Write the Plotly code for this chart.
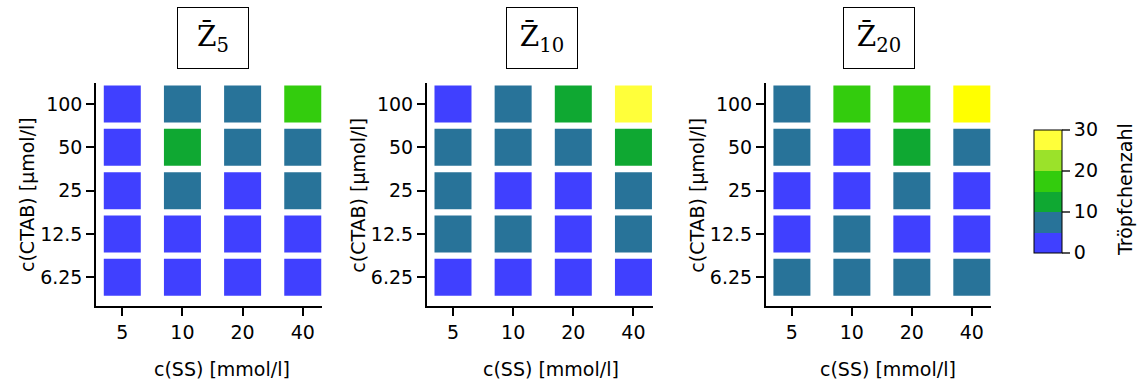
import plotly.graph_objects as go

# Axis categories
ss_labels = ["5", "10", "20", "40"]              # c(SS) [mmol/l]
ctab_labels = ["100", "50", "25", "12.5", "6.25"]  # c(CTAB) [µmol/l], top to bottom

# Droplet counts per panel, rows follow ctab_labels, columns follow ss_labels
z5 = [
    [3, 7, 7, 17],
    [3, 12, 7, 7],
    [3, 7, 3, 7],
    [3, 3, 3, 3],
    [3, 3, 3, 3],
]
z10 = [
    [3, 7, 12, 27],
    [7, 7, 7, 12],
    [7, 3, 3, 7],
    [7, 7, 3, 7],
    [3, 3, 3, 3],
]
z20 = [
    [7, 17, 17, 30],
    [7, 3, 12, 7],
    [3, 3, 7, 3],
    [3, 7, 3, 3],
    [7, 7, 7, 7],
]
panel_titles = ["Z\u0304<sub>5</sub>", "Z\u0304<sub>10</sub>", "Z\u0304<sub>20</sub>"]
panels = [z5, z10, z20]

cbar_ticks = [0, 10, 20, 30]
bin_colors = ["#4040FF", "#287399", "#0FA832", "#33CC0D", "#9BE22A", "#FFFF3A"]
top_color = "#FFFF00"

# stepped colour scale, one flat band per bin of 5
colorscale = []
n = len(bin_colors)
for i, c in enumerate(bin_colors):
    lo = i / n
    hi = (i + 1) / n if i < n - 1 else 0.9999
    colorscale.append([lo, c])
    colorscale.append([hi, c])
colorscale.append([0.9999, top_color])
colorscale.append([1.0, top_color])

W, H = 1138, 383
x_dom_px = [(96, 322), (426.7, 652.7), (765.7, 991)]
y_dom_px = (83, 306)
title_centres = [213, 542, 879.5]
xtitle_centres = [222, 551, 888]

FONT = "DejaVu Sans"
fs = 19
txt = dict(family=FONT, size=fs, color="black")

fig = go.Figure()

for k, mat in enumerate(panels):
    xs, ys, vals = [], [], []
    for i, row in enumerate(mat):
        for j, v in enumerate(row):
            xs.append(j)
            ys.append(i)
            vals.append(v)
    suffix = "" if k == 0 else str(k + 1)
    fig.add_trace(go.Scatter(
        x=xs, y=ys, mode="markers",
        xaxis="x" + suffix, yaxis="y" + suffix,
        marker=dict(symbol="square", size=37, color=vals,
                    coloraxis="coloraxis", line=dict(width=0)),
        hoverinfo="skip", showlegend=False,
    ))

    x0, x1 = x_dom_px[k]
    xa = dict(
        domain=[x0 / W, x1 / W], range=[-0.437, 3.32],
        anchor="y" + suffix,
        tickmode="array", tickvals=list(range(len(ss_labels))), ticktext=ss_labels,
        showline=True, linecolor="black", linewidth=1.5,
        ticks="outside", ticklen=8, tickwidth=1.5, tickcolor="black",
        showgrid=False, zeroline=False, automargin=False,
        tickfont=txt,
    )
    ya = dict(
        domain=[1 - y_dom_px[1] / H, 1 - y_dom_px[0] / H], range=[4.662, -0.485],
        anchor="x" + suffix,
        tickmode="array", tickvals=list(range(len(ctab_labels))), ticktext=ctab_labels,
        showline=True, linecolor="black", linewidth=1.5,
        ticks="outside", ticklen=8, tickwidth=1.5, tickcolor="black",
        showgrid=False, zeroline=False, automargin=False,
        tickfont=txt,
    )
    fig.layout["xaxis" + suffix] = xa
    fig.layout["yaxis" + suffix] = ya

    # x-axis title
    fig.add_annotation(
        text="c(SS) [mmol/l]", xref="paper", yref="paper",
        x=xtitle_centres[k] / W, y=1 - 369 / H, xanchor="center", yanchor="middle",
        showarrow=False, font=txt,
    )

    # y-axis title
    fig.add_annotation(
        text="c(CTAB) [µmol/l]", xref="paper", yref="paper",
        x=(x0 - 69) / W, y=1 - 195 / H, xanchor="center", yanchor="middle",
        textangle=-90, showarrow=False, font=txt,
    )

    # boxed panel title
    fig.add_annotation(
        text=panel_titles[k], xref="paper", yref="paper",
        x=title_centres[k] / W, y=1 - 38 / H, xanchor="center", yanchor="middle",
        showarrow=False, width=70, height=60, borderpad=0,
        bordercolor="black", borderwidth=1,
        font=dict(family="DejaVu Serif", size=28, color="black"),
    )

# colour bar title
fig.add_annotation(
    text="Tröpfchenzahl", xref="paper", yref="paper",
    x=1125 / W, y=1 - 190 / H, xanchor="center", yanchor="middle",
    textangle=-90, showarrow=False, font=txt,
)

fig.update_layout(
    width=W, height=H, template="none",
    margin=dict(l=0, r=0, t=0, b=0),
    paper_bgcolor="white", plot_bgcolor="white",
    coloraxis=dict(
        cmin=0, cmax=30, colorscale=colorscale,
        colorbar=dict(
            x=1034 / W, xanchor="left", xpad=0, ypad=0,
            y=1 - 191.3 / H, yanchor="middle",
            thickness=28, thicknessmode="pixels",
            len=123, lenmode="pixels",
            outlinewidth=1, outlinecolor="black",
            tickmode="array", tickvals=cbar_ticks,
            ticks="outside", ticklen=8, tickcolor="#555555", tickwidth=1.5,
            tickfont=txt,
        ),
    ),
)

fig.write_html("out.html")
